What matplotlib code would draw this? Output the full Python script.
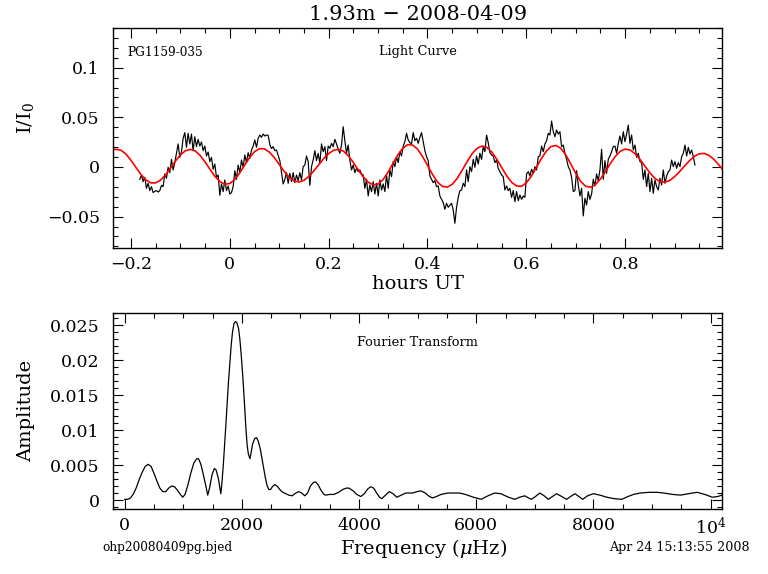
import numpy as np
import matplotlib
matplotlib.use("Agg")
import matplotlib.pyplot as plt
from matplotlib.ticker import MultipleLocator, FuncFormatter

plt.rcParams['font.family'] = ['DejaVu Serif']
plt.rcParams['mathtext.fontset'] = 'dejavuserif'

# ---------------- data ----------------
title_text = "1.93m \u2212 2008-04-09"
star_name = "PG1159-035"
file_name = "ohp20080409pg.bjed"
date_stamp = "Apr 24 15:13:55 2008"

# light curve (hours UT, evenly sampled between first and last time)
lc_t_first = -0.1822
lc_t_last = 0.9413
lc_flux = [
    -0.0124, -0.0081, -0.0148, -0.0104, -0.0215, -0.0164, -0.0238, -0.0198, -0.0258, -0.0245,
    -0.0238, -0.0252, -0.0238, -0.0185, -0.0198, -0.0070, -0.0114, -0.0003, -0.0057, 0.0077,
    -0.0030, 0.0044, 0.0138, 0.0232, 0.0097, 0.0154, 0.0289, 0.0346, 0.0198, 0.0339,
    0.0232, 0.0332, 0.0164, 0.0305, 0.0205, 0.0279, 0.0211, 0.0252, 0.0164, 0.0211,
    0.0111, 0.0151, 0.0054, 0.0097, -0.0023, 0.0030, -0.0104, -0.0081, -0.0285, -0.0171,
    -0.0248, -0.0131, -0.0238, -0.0191, -0.0272, -0.0258, -0.0198, -0.0037, -0.0124, 0.0020,
    -0.0057, 0.0070, -0.0003, 0.0121, 0.0044, 0.0144, 0.0087, 0.0171, 0.0211, 0.0272,
    0.0198, 0.0289, 0.0322, 0.0299, 0.0332, 0.0312, 0.0322, 0.0319, 0.0225, 0.0185,
    0.0205, 0.0164, 0.0171, 0.0117, 0.0064, -0.0057,
    -0.0171, -0.0124, -0.0057, -0.0164, -0.0064, -0.0148, -0.0057, -0.0158, -0.0081, -0.0138,
    -0.0057, -0.0131, 0.0003, 0.0020, 0.0111, 0.0054, -0.0185, 0.0003, 0.0070, 0.0164,
    0.0064, 0.0138, 0.0037, 0.0232, 0.0154, 0.0205, 0.0064, 0.0211, 0.0188, 0.0238,
    0.0205, 0.0279, 0.0232, 0.0178, 0.0138, 0.0221, 0.0406, 0.0265, 0.0138, 0.0221,
    0.0070, -0.0030, 0.0020, -0.0057, -0.0013, -0.0047, -0.0030, -0.0070, -0.0081, -0.0215,
    -0.0124, -0.0292, -0.0181, -0.0248, -0.0148, -0.0272, -0.0164, -0.0292, -0.0131, -0.0232,
    -0.0171, -0.0248, -0.0081, -0.0215, -0.0030, -0.0097, 0.0054, 0.0003, 0.0104, 0.0044,
    0.0154, 0.0111, 0.0211, 0.0255, 0.0339, 0.0272, 0.0245, 0.0232, 0.0346, 0.0265,
    0.0289, 0.0238, 0.0299, 0.0346, 0.0255, 0.0164, 0.0104, 0.0064,
    -0.0091, -0.0124, -0.0158, -0.0138, -0.0198, -0.0191, -0.0292, -0.0326, -0.0359, -0.0426,
    -0.0366, -0.0406, -0.0386, -0.0366, -0.0433, -0.0567, -0.0406, -0.0305, -0.0238, -0.0232,
    -0.0164, -0.0198, -0.0030, -0.0148, 0.0003, -0.0047, 0.0077, -0.0003, 0.0111, 0.0030,
    0.0138, 0.0077, 0.0205, 0.0154, 0.0322, 0.0245, 0.0144, 0.0121, 0.0111, 0.0044,
    0.0070, -0.0013, -0.0047, -0.0081, -0.0097, -0.0232, -0.0191, -0.0238, -0.0215, -0.0305,
    -0.0238, -0.0349, -0.0248, -0.0339, -0.0282, -0.0326, -0.0292, -0.0305, -0.0070, -0.0047,
    -0.0091, -0.0023, -0.0064, 0.0003, -0.0030, 0.0104, 0.0111, 0.0211, 0.0154, 0.0232,
    0.0265, 0.0339, 0.0322, 0.0463, 0.0356, 0.0305, 0.0373, 0.0332, 0.0356, 0.0205,
    0.0221, 0.0138, 0.0077, 0.0003, -0.0030, -0.0104, -0.0248,
    -0.0238, -0.0037, -0.0181, -0.0292, -0.0215, -0.0493, -0.0315, -0.0383, -0.0248, -0.0326,
    -0.0272, -0.0124, -0.0191, -0.0070, -0.0138, -0.0030, 0.0178, -0.0124, 0.0064, -0.0064,
    0.0077, 0.0111, 0.0154, 0.0205, 0.0211, 0.0138, 0.0238, 0.0312, 0.0232, 0.0356,
    0.0255, 0.0332, 0.0423, 0.0238, 0.0322, 0.0171, 0.0221, 0.0097, 0.0138, 0.0054,
    0.0044, -0.0124, -0.0030, -0.0198, -0.0064, -0.0248, -0.0114, -0.0265, -0.0131, -0.0198,
    -0.0232, -0.0114, -0.0181, -0.0030, -0.0164, -0.0091, -0.0047, -0.0030, 0.0070, 0.0003,
    0.0054, -0.0013, 0.0044, 0.0003, 0.0104, 0.0138, 0.0221, 0.0111, 0.0198, 0.0131,
    0.0171, 0.0104, 0.0020,
]

# fitted sinusoid (red), read every 0.01 h from -0.23 to 0.99, plus the two edge values
fit_edge_t = [-0.236, 0.997]
fit_edge_v = [0.0176, -0.0023]
fit_grid_first = -0.23
fit_grid_last = 0.99
fit_values = [
    0.0178, 0.0168, 0.0129, 0.0068, -0.0004, -0.0074, -0.0130, -0.0160, -0.0160, -0.0131,
    -0.0079, -0.0011, 0.0060, 0.0121, 0.0163, 0.0178, 0.0162, 0.0117, 0.0050, -0.0025,
    -0.0095, -0.0148, -0.0174, -0.0166, -0.0126, -0.0060, 0.0018, 0.0095, 0.0154, 0.0185,
    0.0183, 0.0150, 0.0095, 0.0026, -0.0045, -0.0104, -0.0141, -0.0151, -0.0134, -0.0095,
    -0.0040, 0.0023, 0.0085, 0.0135, 0.0168, 0.0178, 0.0159, 0.0112, 0.0045, -0.0030,
    -0.0100, -0.0153, -0.0179, -0.0172, -0.0128, -0.0054, 0.0035, 0.0122, 0.0189, 0.0225,
    0.0221, 0.0179, 0.0106, 0.0016, -0.0074, -0.0150, -0.0195, -0.0203, -0.0175, -0.0115,
    -0.0034, 0.0053, 0.0131, 0.0187, 0.0211, 0.0198, 0.0152, 0.0080, -0.0004, -0.0087,
    -0.0153, -0.0191, -0.0195, -0.0160, -0.0094, -0.0008, 0.0081, 0.0157, 0.0206, 0.0217,
    0.0187, 0.0121, 0.0030, -0.0064, -0.0145, -0.0194, -0.0204, -0.0177, -0.0121, -0.0047,
    0.0034, 0.0107, 0.0158, 0.0181, 0.0171, 0.0134, 0.0077, 0.0009, -0.0059, -0.0114,
    -0.0147, -0.0153, -0.0136, -0.0098, -0.0048, 0.0009, 0.0063, 0.0107, 0.0133, 0.0137,
    0.0116, 0.0074, 0.0019,
]

# Fourier transform (frequency in microHz, amplitude)
ft_freq = [
    0, 50, 100, 150, 200, 250, 300, 350, 400, 450, 500, 550, 600, 650, 700, 750, 800, 850,
    900, 950, 990, 1030, 1080, 1130, 1180, 1230, 1260, 1300, 1340, 1380, 1417, 1450, 1490,
    1530, 1560, 1600, 1640, 1660, 1686, 1710, 1730, 1750, 1771, 1795, 1817, 1840, 1865,
    1890, 1915, 1943, 1965, 1989, 2010, 2029, 2050, 2069, 2090, 2110, 2137, 2160, 2183,
    2220, 2250, 2280, 2314, 2345, 2371, 2400, 2429, 2460, 2490, 2520, 2560, 2600, 2657,
    2700, 2750, 2800, 2857, 2920, 2971, 3020, 3074, 3120, 3170, 3220, 3257, 3300, 3350,
    3400, 3429, 3500, 3571, 3650, 3720, 3780, 3829, 3900, 3960, 4029, 4090, 4150, 4200,
    4250, 4300, 4350, 4389, 4440, 4514, 4580, 4646, 4720, 4800, 4914, 4990, 5057, 5130,
    5200, 5257, 5320, 5400, 5514, 5600, 5700, 5771, 5850, 5950, 6086, 6200, 6314, 6420,
    6550, 6657, 6740, 6829, 6890, 6943, 7010, 7086, 7160, 7229, 7300, 7371, 7460, 7543,
    7610, 7686, 7750, 7817, 7900, 8000, 8110, 8229, 8350, 8486, 8590, 8686, 8800, 8950,
    9086, 9200, 9350, 9486, 9620, 9771, 9900, 10029, 10120, 10200,
]
ft_amp = [
    0.0001, 0.0001, 0.0003, 0.0009, 0.0018, 0.0030, 0.0040, 0.0048, 0.0051, 0.0048, 0.0038,
    0.0027, 0.0017, 0.0012, 0.0012, 0.0017, 0.0020, 0.0019, 0.0014, 0.0008, 0.0004, 0.0008,
    0.0022, 0.0039, 0.0053, 0.0059, 0.0059, 0.0051, 0.0037, 0.0022, 0.0007, 0.0018, 0.0036,
    0.0045, 0.0043, 0.0030, 0.0009, 0.0025, 0.0054, 0.0085, 0.0112, 0.0140, 0.0169, 0.0197,
    0.0221, 0.0240, 0.0252, 0.0255, 0.0253, 0.0245, 0.0230, 0.0207, 0.0183, 0.0159, 0.0130,
    0.0102, 0.0078, 0.0066, 0.0059, 0.0069, 0.0080, 0.0088, 0.0089, 0.0084, 0.0073, 0.0058,
    0.0045, 0.0032, 0.0021, 0.0015, 0.0015, 0.0019, 0.0022, 0.0020, 0.0014, 0.0011, 0.0009,
    0.0007, 0.0006, 0.0010, 0.0012, 0.0010, 0.0006, 0.0010, 0.0020, 0.0025, 0.0026, 0.0022,
    0.0014, 0.0008, 0.0007, 0.0008, 0.0008, 0.0011, 0.0015, 0.0017, 0.0017, 0.0013, 0.0008,
    0.0005, 0.0009, 0.0016, 0.0019, 0.0017, 0.0010, 0.0004, 0.0002, 0.0006, 0.0012, 0.0009,
    0.0004, 0.0007, 0.0010, 0.0010, 0.0012, 0.0013, 0.0010, 0.0005, 0.0003, 0.0005, 0.0008,
    0.0010, 0.0010, 0.0010, 0.0009, 0.0007, 0.0004, 0.0001, 0.0006, 0.0010, 0.0009, 0.0004,
    0.0001, 0.0004, 0.0006, 0.0003, 0.0001, 0.0005, 0.0010, 0.0006, 0.0001, 0.0005, 0.0009,
    0.0005, 0.0001, 0.0005, 0.0009, 0.0005, 0.0001, 0.0006, 0.0009, 0.0007, 0.0004, 0.0002,
    0.0001, 0.0005, 0.0008, 0.0010, 0.0011, 0.0011, 0.0010, 0.0008, 0.0007, 0.0009, 0.0011,
    0.0008, 0.0004, 0.0005, 0.0007,
]

# ---------------- figure ----------------
W, H = 768, 574
fig = plt.figure(figsize=(W / 100, H / 100), dpi=100)

def fx(px):
    return px / W

def fy(py):
    return 1 - py / H

ax1 = fig.add_axes([fx(113), fy(247.7), fx(722.3) - fx(113), fy(28) - fy(247.7)])
ax2 = fig.add_axes([fx(113), fy(508.7), fx(722.3) - fx(113), fy(312.7) - fy(508.7)])

lc_t = np.linspace(lc_t_first, lc_t_last, len(lc_flux))
ax1.plot(lc_t, lc_flux, color='black', lw=0.85)
fit_t = np.concatenate([[fit_edge_t[0]], np.linspace(fit_grid_first, fit_grid_last, len(fit_values)), [fit_edge_t[1]]])
fit_v = np.concatenate([[fit_edge_v[0]], fit_values, [fit_edge_v[1]]])
ax1.plot(fit_t, fit_v, color='#ff0000', lw=1.2)

ax2.plot(ft_freq, ft_amp, color='black', lw=0.9)

ax1.set_xlim(-0.2364, 0.9966)
ax1.set_ylim(-0.0813, 0.140)
ax2.set_xlim(-200, 10200)
ax2.set_ylim(-0.00124, 0.02676)

def fmt(v, pos):
    if abs(v) < 1e-12:
        return "0"
    if abs(v - 10000) < 1e-6:
        return "10$^4$"
    return ("%g" % v).replace("-", "\u2212")

for ax in (ax1, ax2):
    ax.tick_params(which='both', direction='in', top=True, right=True, width=0.8,
                   labelsize=12.5)
    ax.tick_params(which='major', length=7.5)
    ax.tick_params(which='minor', length=3.8)
    ax.tick_params(axis='y', pad=9.5)
    ax.tick_params(axis='x', pad=6)
    ax.xaxis.set_major_formatter(FuncFormatter(fmt))
    ax.yaxis.set_major_formatter(FuncFormatter(fmt))
    for s in ax.spines.values():
        s.set_linewidth(1.0)

ax1.xaxis.set_major_locator(MultipleLocator(0.2))
ax1.xaxis.set_minor_locator(MultipleLocator(0.05))
ax1.yaxis.set_major_locator(MultipleLocator(0.05))
ax1.yaxis.set_minor_locator(MultipleLocator(0.01))
ax2.xaxis.set_major_locator(MultipleLocator(2000))
ax2.xaxis.set_minor_locator(MultipleLocator(500))
ax2.yaxis.set_major_locator(MultipleLocator(0.005))
ax2.yaxis.set_minor_locator(MultipleLocator(0.001))

ax1.set_xlabel("hours UT", fontsize=14)
ax1.xaxis.set_label_coords(0.5, -(284 - 247.7) / 219.7)
ax1.xaxis.label.set_verticalalignment('center')
ax1.set_ylabel("I/I$_0$", fontsize=14)
ax1.yaxis.set_label_coords((25 - 113) / 609.3, (247.7 - 118) / 219.7)
ax1.yaxis.label.set_verticalalignment('center')

ax2.set_xlabel("Frequency ($\\mu$Hz)", fontsize=14)
ax2.xaxis.set_label_coords((424 - 113) / 609.3, -(548 - 508.7) / 196.0)
ax2.xaxis.label.set_verticalalignment('center')
ax2.set_ylabel("Amplitude", fontsize=14)
ax2.yaxis.set_label_coords((26 - 113) / 609.3, 0.5)
ax2.yaxis.label.set_verticalalignment('center')

fig.text(fx(418), fy(14), title_text, fontsize=15, ha='center', va='center')
fig.text(fx(127), fy(52), star_name, fontsize=8.7, ha='left', va='center')
fig.text(fx(417.5), fy(52), "Light Curve", fontsize=9.3, ha='center', va='center')
fig.text(fx(417), fy(342), "Fourier Transform", fontsize=9.3, ha='center', va='center')
fig.text(fx(102.5), fy(548), file_name, fontsize=8.7, ha='left', va='center')
fig.text(fx(750), fy(548), date_stamp, fontsize=9.1, ha='right', va='center')

fig.savefig("out.png", dpi=100)
